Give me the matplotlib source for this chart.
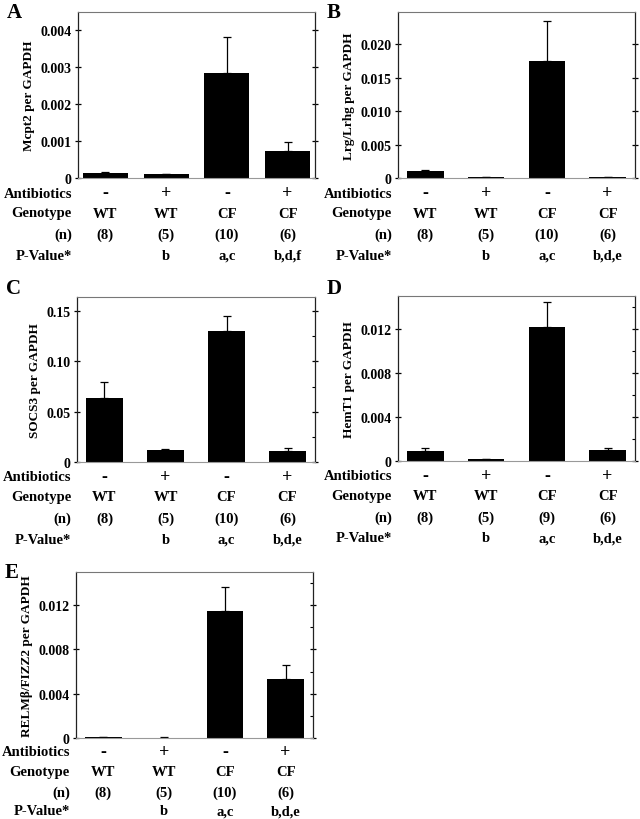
import numpy as np
import matplotlib
matplotlib.use('Agg')
import matplotlib.pyplot as plt
from matplotlib.ticker import MultipleLocator
import matplotlib.transforms as mtransforms

plt.rcParams['font.family'] = ['Liberation Serif', 'DejaVu Serif']
plt.rcParams['font.weight'] = 'bold'

# datos
antibioticos = ['-', '+', '-', '+']
genotipo = ['WT', 'WT', 'CF', 'CF']

mcpt2 = [0.00013, 0.0001, 0.00285, 0.00074]
mcpt2_err = [0.00002, 0.00001, 0.00096, 0.00024]
mcpt2_n = ['(8)', '(5)', '(10)', '(6)']
mcpt2_p = ['', 'b', 'a,c', 'b,d,f']

lrg = [0.001, 0.00008, 0.01745, 0.0001]
lrg_err = [0.0002, 0.00002, 0.006, 0.00003]
lrg_n = ['(8)', '(5)', '(10)', '(6)']
lrg_p = ['', 'b', 'a,c', 'b,d,e']

socs3 = [0.0637, 0.0116, 0.1304, 0.0106]
socs3_err = [0.016, 0.0017, 0.0149, 0.0033]
socs3_n = ['(8)', '(5)', '(10)', '(6)']
socs3_p = ['', 'b', 'a,c', 'b,d,e']

hemt1 = [0.00091, 0.00015, 0.01215, 0.001]
hemt1_err = [0.00024, 0.00005, 0.00227, 0.0002]
hemt1_n = ['(8)', '(5)', '(9)', '(6)']
hemt1_p = ['', 'b', 'a,c', 'b,d,e']

relm = [0.00007, 0.00004, 0.01146, 0.0053]
relm_err = [0.00003, 0.00002, 0.00217, 0.00127]
relm_n = ['(8)', '(5)', '(10)', '(6)']
relm_p = ['', 'b', 'a,c', 'b,d,e']

W, H = 640, 820
fig = plt.figure(figsize=(6.4, 8.2), dpi=100)


def px_axes(left, top, right, bottom):
    return fig.add_axes([left / W, 1 - bottom / H, (right - left) / W, (bottom - top) / H])


def create_panel(box, letra, letra_y, valores, errores, n, pval, ylabel, ymax, major, minor,
                 width, fmt, offsets=(15, 35, 56, 77)):
    ax = px_axes(*box)
    x = np.arange(4)
    ax.bar(x, valores, width=width, color='black')
    ax.errorbar(x, valores, yerr=[np.zeros(4), errores], fmt='none',
                ecolor='black', elinewidth=0.9, capsize=3, capthick=0.9)
    ax.set_xlim(-0.45, 3.45)
    ax.set_ylim(0, ymax)
    ax.set_xticks([])
    ax.yaxis.set_major_locator(MultipleLocator(major))
    ax.yaxis.set_major_formatter(plt.FuncFormatter(lambda v, p: '0' if v == 0 else fmt.format(v)))
    ax.tick_params(axis='y', which='major', direction='inout', length=5, width=0.9,
                   labelsize=10, pad=2, right=True, labelright=False)
    if minor:
        ax.yaxis.set_minor_locator(MultipleLocator(minor))
        ax.tick_params(axis='y', which='minor', direction='in', length=2.5, width=0.8,
                       left=False, right=True)
    for s in ['left', 'right']:
        ax.spines[s].set_color('#222222')
        ax.spines[s].set_linewidth(0.9)
    ax.spines['top'].set_color('#777777')
    ax.spines['bottom'].set_color('#999999')
    for lab in ax.get_yticklabels():
        lab.set_fontweight('bold')
    ax.set_ylabel(ylabel, fontsize=9.5, fontweight='bold', labelpad=4)

    # tabla debajo del grafico
    filas = [('Antibiotics', antibioticos), ('Genotype', genotipo), ('(n)', n), ('P-Value*', pval)]
    trans = mtransforms.blended_transform_factory(ax.transData, fig.transFigure)
    left, top, right, bottom = box
    for (nombre, textos), off in zip(filas, offsets):
        yy = 1 - (bottom + off) / H
        fig.text((left - 6) / W, yy, nombre, ha='right', va='center', fontsize=10.5, fontweight='bold')
        for xi, t in zip(x, textos):
            size = 13 if t in ('-', '+') else 10.5
            ax.text(xi, yy, t, transform=trans, ha='center', va='center',
                    fontsize=size, fontweight='bold', clip_on=False)
    fig.text((left - 71) / W, 1 - letra_y / H, letra, ha='left', va='center',
             fontsize=15, fontweight='bold')
    return ax


create_panel((78, 13, 315, 179), 'A', 13, mcpt2, mcpt2_err, mcpt2_n, mcpt2_p,
             'Mcpt2 per GAPDH', 0.0045, 0.001, None, 0.74, '{:.3f}')
create_panel((398, 13, 635, 179), 'B', 13, lrg, lrg_err, lrg_n, lrg_p,
             'Lrg/Lrhg per GAPDH', 0.0248, 0.005, None, 0.6, '{:.3f}')
create_panel((77, 298, 315, 463), 'C', 289, socs3, socs3_err, socs3_n, socs3_p,
             'SOCS3 per GAPDH', 0.164, 0.05, 0.025, 0.6, '{:.2f}')
create_panel((398, 297, 635, 462), 'D', 289, hemt1, hemt1_err, hemt1_n, hemt1_p,
             'HemT1 per GAPDH', 0.015, 0.004, 0.002, 0.6, '{:.3f}')
create_panel((76, 573, 313, 739), 'E', 573, relm, relm_err, relm_n, relm_p,
             'RELMβ/FIZZ2 per GAPDH', 0.015, 0.004, 0.002, 0.6, '{:.3f}',
             offsets=(14, 34, 54, 73))

fig.savefig('out.png', dpi=100)
